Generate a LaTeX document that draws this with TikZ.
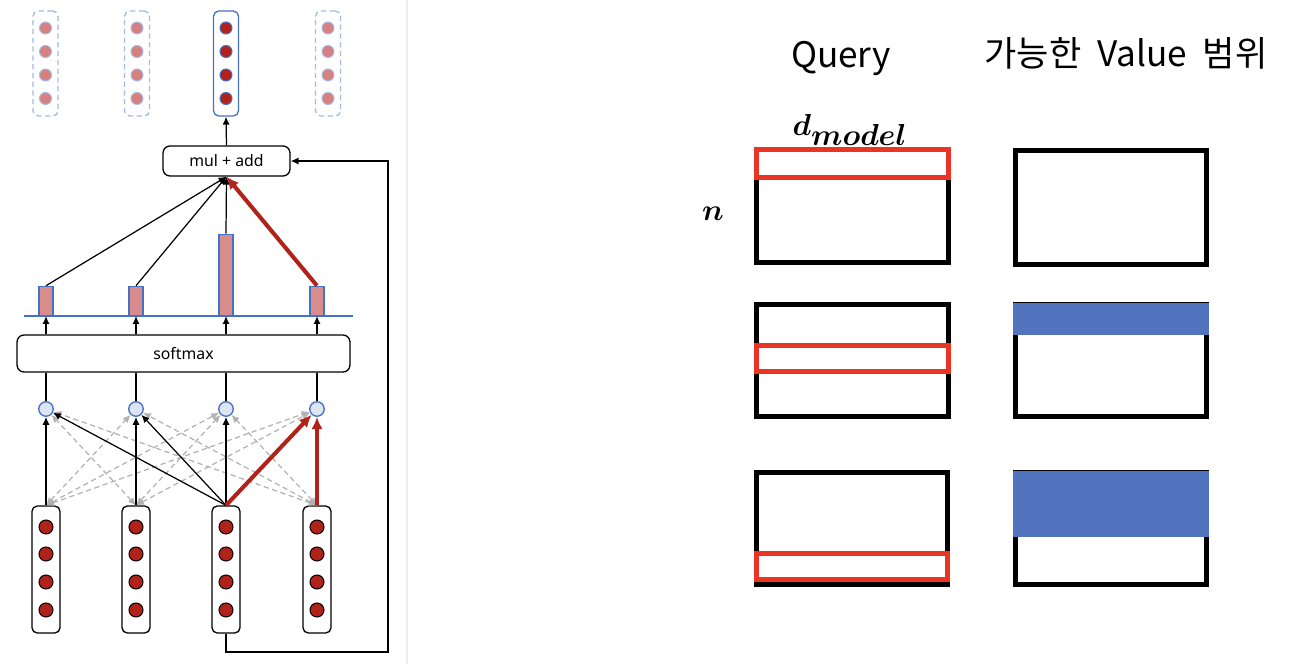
\documentclass[tikz,border=0pt]{standalone}
\usepackage[no-math]{fontspec}
\setmainfont{Noto Sans}
\newfontfamily\krfont{Noto Sans CJK KR}
\usetikzlibrary{arrows.meta,positioning}

\definecolor{attred}{RGB}{176,34,26}
\definecolor{attblue}{RGB}{68,114,196}
\definecolor{barpink}{RGB}{217,140,140}
\definecolor{dotpink}{RGB}{214,128,128}
\definecolor{paleblue}{RGB}{221,229,243}
\definecolor{dashblue}{RGB}{165,186,230}
\definecolor{rowred}{RGB}{236,52,36}
\definecolor{rangeblue}{RGB}{82,116,190}

\tikzset{
  vecbox/.style={draw, rounded corners=3pt, minimum width=0.56cm, minimum height=2.54cm, line width=0.75pt},
  outbox/.style={draw=dashblue, dashed, dash pattern=on 3pt off 2pt, rounded corners=3pt, minimum width=0.5cm, minimum height=2.1cm, line width=0.75pt},
  indot/.style={circle, draw, fill=attred, minimum size=0.28cm, inner sep=0pt, line width=0.6pt},
  outdot/.style={circle, draw=dashblue, fill=dotpink, minimum size=0.24cm, inner sep=0pt, line width=0.6pt},
  score/.style={circle, draw=attblue, fill=paleblue, minimum size=0.29cm, inner sep=0pt, line width=0.75pt},
  bar/.style={draw=attblue, fill=barpink, minimum width=0.28cm, inner sep=0pt, line width=0.75pt},
  opbox/.style={draw, rounded corners=4pt, line width=0.75pt, font=\fontsize{9}{11}\selectfont},
  arr/.style={-{Latex[length=4.5pt,width=4pt]}, line width=0.7pt},
  redarr/.style={-{Latex[length=7pt,width=6.5pt]}, draw=attred, line width=2.3pt},
  grayarr/.style={{Latex[length=4.5pt,width=4pt]}-{Latex[length=4.5pt,width=4pt]}, draw=black!30, dashed, dash pattern=on 3pt off 2pt, line width=0.7pt},
  title/.style={font=\krfont\fontsize{20}{24}\selectfont, anchor=base},
  mathlab/.style={font=\fontsize{16}{19}\selectfont\boldmath, anchor=base},
  qbox/.style={draw, line width=0.1cm},
  rowbox/.style={draw=rowred, line width=0.1cm}
}

\begin{document}
\begin{tikzpicture}[x=0.02cm, y=-0.02cm]
\useasboundingbox (0,0) rectangle (1296,664);
\draw[black!7, line width=1pt] (407,0) -- (407,664);

% input vectors and score circles
\foreach \i/\x in {1/46,2/136,3/226,4/317} {
  \node[vecbox] (in\i) at (\x,569.5) {};
  \foreach \k/\y in {1/527,2/554,3/582,4/610}
    \node[indot] (in\i-\k) at (\x,\y) {};
  \node[score] (s\i) at (\x,409) {};
}

% other positions
\foreach \j/\i in {1/2,1/3,1/4,2/1,2/3,2/4,4/1,4/2,4/3}
  \draw[grayarr] (in\j.north) -- (s\i);
\draw[arr] (in1.north) -- (s1);
\draw[arr] (in2.north) -- (s2);
\draw[arr] (in3.north) -- (s3);
\draw[arr] (in3.north) -- (s1);
\draw[arr] (in3.north) -- (s2);
\draw[redarr] (in3.north) -- (s4);
\draw[redarr] (in4.north) -- (s4);

\node[opbox, minimum width=6.66cm, minimum height=0.74cm] (softmax) at (183.5,353.5) {softmax};
\node[opbox, minimum width=2.54cm, minimum height=0.6cm] (muladd) at (226.5,161) {mul + add};

% weights
\draw[attblue, line width=0.75pt] (24,316) coordinate (base-l) -- (353,316) coordinate (base-r);
\foreach \i/\x/\h in {1/46/0.58,2/136/0.58,3/226/1.62,4/317/0.58}
  \node[bar, minimum height=\h cm, anchor=south] (b\i) at (\x,316) {};

\foreach \i in {1,...,4} {
  \draw[line width=0.7pt] (s\i) -- (s\i |- softmax.south);
  \draw[arr] (b\i.south |- softmax.north) -- (b\i.south);
}
\foreach \i in {1,2,3}
  \draw[arr] (b\i.north) -- (muladd.south);
\draw[redarr] (b4.north) -- (muladd.south);

% outputs
\foreach \i/\x in {1/45.5,2/137,4/328} {
  \node[outbox] (out\i) at (\x,63.5) {};
  \foreach \k/\y in {1/28,2/51.5,3/75,4/98.5}
    \node[outdot] (out\i-\k) at (\x,\y) {};
}
\node[outbox, solid, draw=attblue] (out3) at (226,63.5) {};
\foreach \k/\y in {1/28,2/51.5,3/75,4/98.5}
  \node[outdot, draw=attblue, fill=attred] (out3-\k) at (226,\y) {};
\draw[arr] (muladd.north) -- (out3.south);

% residual path
\coordinate (loop) at (388,652);
\draw[arr] (in3.south) |- (loop) |- (muladd.east);

% query rows and value ranges
\node[title] (query) at (841,67) {Query};
\node[title] (vrange) at (1126,66) {가능한\hspace{0.45em}Value\hspace{0.45em}범위};
\node[mathlab] (dmodel) at (850,135) {$d_{\textstyle model}$};
\node[mathlab, font=\fontsize{18}{21}\selectfont\boldmath] (nlabel) at (713,220) {$n$};

\draw[qbox] (756.5,149.5) rectangle (948.5,262.5);
\draw[rowbox] (756.5,149.5) rectangle (948.5,177.5);
\draw[qbox] (756.5,304.8) rectangle (948.5,416.8);
\draw[rowbox] (756.5,345.2) rectangle (948.5,371.8);
\draw[qbox] (756,472.5) rectangle (947,584.5);
\draw[rowbox] (756,553.5) rectangle (947,579.5);

\draw[qbox] (1015.8,150.8) rectangle (1206.8,264.2);
\draw[qbox] (1015.8,304.5) rectangle (1206.8,416.8);
\fill[rangeblue] (1013.3,303.2) rectangle (1209.3,335);
\draw[qbox] (1015.8,472.5) rectangle (1206.8,584.5);
\fill[rangeblue] (1013.3,471.2) rectangle (1209.3,537);
\end{tikzpicture}
\end{document}
